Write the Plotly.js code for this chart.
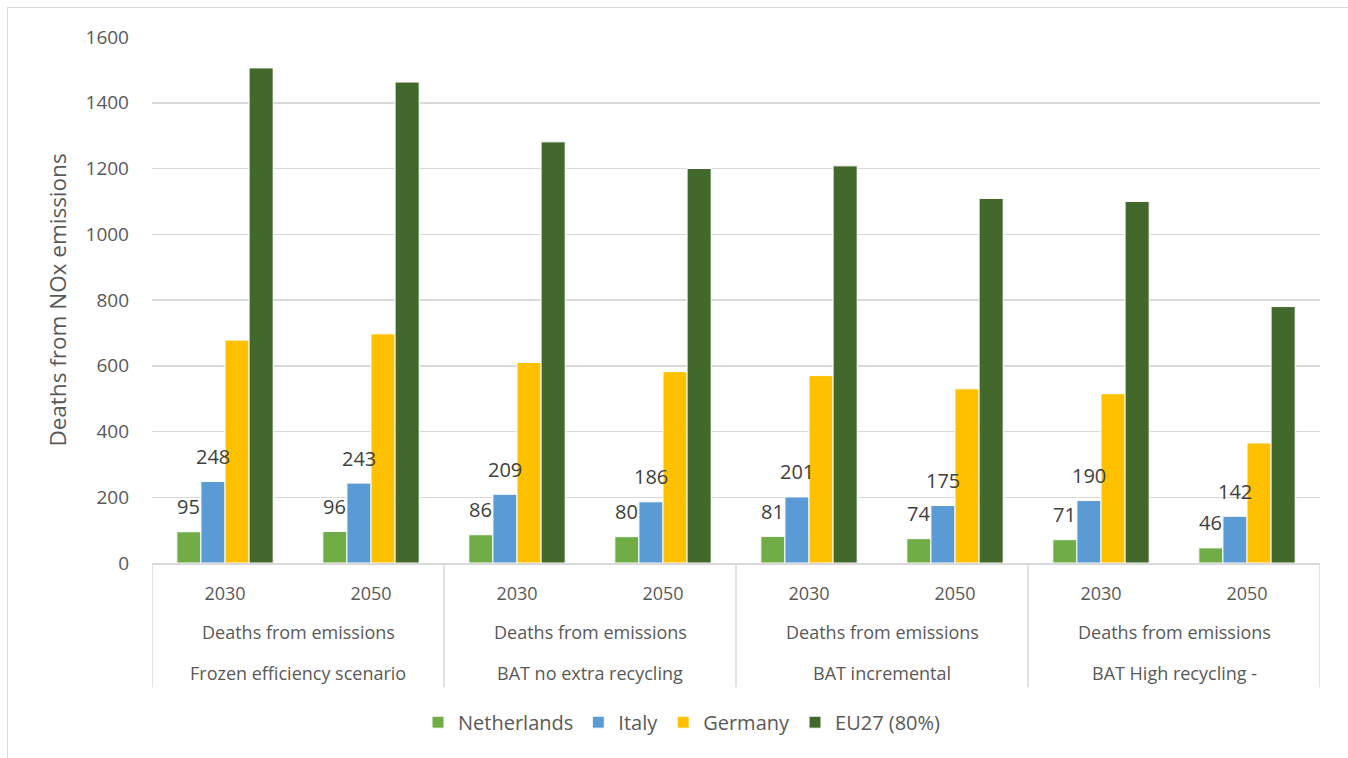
<!DOCTYPE html>
<html><head><meta charset="utf-8">
<script src="https://cdn.plot.ly/plotly-3.0.1.min.js"></script>
<style>
html,body{margin:0;padding:0;background:#fff;overflow:hidden;}
#chart{width:1348px;height:758px;}
#frame{position:absolute;left:7px;top:7px;width:1400px;height:800px;border:1.5px solid #d9d9d9;pointer-events:none;box-sizing:border-box;}
</style>
</head><body>
<div id="chart"></div><div id="frame"></div>
<script>
const years = ['2030','2050','2030','2050','2030','2050','2030','2050'];
const scenarios = ['Frozen efficiency scenario','BAT no extra recycling','BAT incremental','BAT High recycling -'];
const subgroup = 'Deaths from emissions';
const seriesNames = ['Netherlands','Italy','Germany','EU27 (80%)'];
const netherlands = [95,96,86,80,81,74,71,46];
const italy = [248,243,209,186,201,175,190,142];
const germany = [678,697,610,582,570,530,515,365];
const eu27 = [1506,1463,1281,1200,1208,1109,1100,780];
const colors = ['#70ad47','#5b9bd5','#ffc000','#43682b'];
const labelled = [true,true,false,false];

const FONT = '"Open Sans", "Noto Sans", sans-serif';
const seriesData = [netherlands, italy, germany, eu27];
const idx = years.map((_, i) => i);
const bargap = 0.34;
const slot = (1 - bargap) / seriesData.length;

const traces = seriesData.map((vals, s) => ({
  type: 'bar', name: seriesNames[s], x: idx, y: vals,
  marker: {color: colors[s], line: {color: '#ffffff', width: 1}},
  hoverinfo: 'name+y'
}));

const annotations = [];
seriesData.forEach((vals, s) => {
  if (!labelled[s]) return;
  const off = (s - (seriesData.length - 1) / 2) * slot;
  vals.forEach((v, i) => annotations.push({
    x: i + off, y: v, xref: 'x', yref: 'y', text: String(v), showarrow: false,
    yanchor: 'middle', yshift: 25, font: {family: FONT, size: 20, color: '#404040'}
  }));
});
const plotH = 527;
const py = px => -px / plotH;
scenarios.forEach((sc, g) => {
  annotations.push({x: 2 * g + 0.5, y: py(633 - 563.5), xref: 'x', yref: 'paper', text: subgroup, showarrow: false,
    yanchor: 'middle', font: {family: FONT, size: 18, color: '#595959'}});
  annotations.push({x: 2 * g + 0.5, y: py(674 - 563.5), xref: 'x', yref: 'paper', text: sc, showarrow: false,
    yanchor: 'middle', font: {family: FONT, size: 18, color: '#595959'}});
});
const shapes = [];
for (let g = 0; g <= scenarios.length; g++) {
  shapes.push({type: 'line', xref: 'x', yref: 'paper', x0: 2 * g - 0.5, x1: 2 * g - 0.5, y0: 0, y1: py(688 - 563.5),
    line: {color: '#d9d9d9', width: 1.5}});
}

const layout = {
  width: 1348, height: 758,
  margin: {l: 152, r: 28, t: 36.5, b: 194.5},
  paper_bgcolor: '#ffffff', plot_bgcolor: '#ffffff',
  barmode: 'group', bargap: bargap, bargroupgap: 0,
  showlegend: true,
  legend: {orientation: 'h', x: (682 - 152) / 1168, xanchor: 'center', y: py(723 - 563.5), yanchor: 'middle',
    font: {family: FONT, size: 20, color: '#595959'}, itemwidth: 30, traceorder: 'normal'},
  xaxis: {range: [-0.5, years.length - 0.5], tickmode: 'array', tickvals: idx, ticktext: years,
    showgrid: false, zeroline: false, showline: true, linecolor: '#d9d9d9', linewidth: 1.5,
    ticks: '', ticklabelstandoff: 14, tickfont: {family: FONT, size: 18, color: '#595959'}, fixedrange: true},
  yaxis: {range: [0, 1600], dtick: 200, tick0: 0, showgrid: true, gridcolor: '#d9d9d9', gridwidth: 1.5,
    zeroline: false, showline: false, ticks: '', ticklabelstandoff: 22,
    tickfont: {family: FONT, size: 19, color: '#595959'},
    title: {text: 'Deaths from NOx emissions', standoff: 12, font: {family: FONT, size: 22.5, color: '#595959'}},
    automargin: false, fixedrange: true},
  annotations: annotations, shapes: shapes
};
Plotly.newPlot('chart', traces, layout, {displayModeBar: false, staticPlot: true});
</script>
</body></html>
